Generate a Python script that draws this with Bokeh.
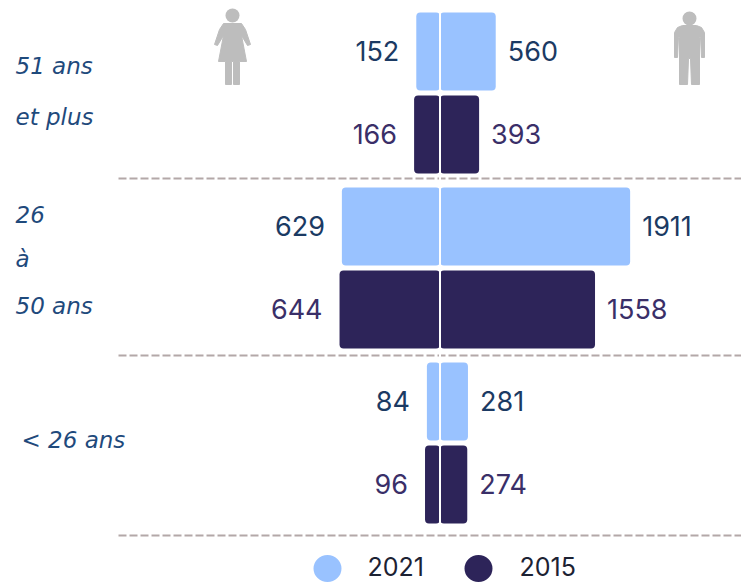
from bokeh.plotting import figure
from bokeh.models import Range1d, ColumnDataSource
from bokeh.core.properties import value
from bokeh.embed import file_html
from bokeh.resources import INLINE

groups = ["51 ans et plus", "26 à 50 ans", "< 26 ans"]
years = ["2021", "2015"]
femmes_2021 = [152, 629, 84]
femmes_2015 = [166, 644, 96]
hommes_2021 = [560, 1911, 281]
hommes_2015 = [393, 1558, 274]
colors = {"2021": "#99c2ff", "2015": "#2d2459"}
label_colors = {"2021": "#1b3a63", "2015": "#3a2f68"}
FONT = "Inter"

W, H = 741, 582
CX = 439.5        # centre line in figure pixels
F_SCALE = 0.156   # px per unit on women's side
M_SCALE = 0.0995  # px per unit on men's side
GROUP_STEP = 175
G0 = 92.5
DODGE = 41.5 / GROUP_STEP
BAR_H = 78 / GROUP_STEP

p = figure(width=W, height=H, output_backend="svg", toolbar_location=None,
           x_range=Range1d(CX / F_SCALE, -(W - CX) / F_SCALE),
           y_range=Range1d((H - G0) / GROUP_STEP, -G0 / GROUP_STEP),
           min_border=0, outline_line_color=None, background_fill_color="white",
           border_fill_color="white")
p.axis.visible = False
p.grid.visible = False
p.extra_x_ranges = {"men": Range1d(-CX / M_SCALE, (W - CX) / M_SCALE), "px": Range1d(0, W)}
p.extra_y_ranges = {"py": Range1d(H, 0)}

for i, (yr, fv, mv, off) in enumerate([("2021", femmes_2021, hommes_2021, -DODGE),
                                       ("2015", femmes_2015, hommes_2015, DODGE)]):
    ys = [g + off for g in range(len(groups))]
    src = ColumnDataSource(dict(y=ys, f=fv, m=mv, zero=[0] * len(ys),
                                ft=[str(v) for v in fv], mt=[str(v) for v in mv]))
    p.hbar(y="y", left="zero", right="f", height=BAR_H, source=src, fill_color=colors[yr],
           line_color=None, border_radius=4)
    p.hbar(y="y", left="zero", right="m", height=BAR_H, source=src, fill_color=colors[yr],
           line_color=None, border_radius=4, x_range_name="men")
    p.text(x="f", y="y", text="ft", source=src, x_offset=-17, y_offset=-1, text_align="right",
           text_baseline="middle", text_font=value(FONT), text_font_size="27px",
           text_color=label_colors[yr])
    p.text(x="m", y="y", text="mt", source=src, x_offset=12, y_offset=-1, text_align="left",
           text_baseline="middle", text_font=value(FONT), text_font_size="27px",
           text_color=label_colors[yr], x_range_name="men")

# separators, centre line (figure pixels)
for y, x0 in [(178, 118), (355, 118), (535, 118)]:
    p.line([x0, W], [y, y], x_range_name="px", y_range_name="py",
           line_color="#b3a8a8", line_width=1.8, line_dash="8 3")
p.line([CX, CX], [11, 525], x_range_name="px", y_range_name="py",
       line_color="white", line_width=2)

# group labels
lab = [("51 ans", 15, 65), ("et plus", 15, 116), ("26", 15, 214), ("à", 15, 258),
       ("50 ans", 15, 305), ("< 26 ans", 21, 439)]
p.text(x=[l[1] for l in lab], y=[l[2] for l in lab], text=[l[0] for l in lab],
       x_range_name="px", y_range_name="py", text_baseline="middle",
       text_font=value("DejaVu Sans"), text_font_style="italic", text_font_size="23px",
       text_color="#1f4a7c")

# legend
p.ellipse(x=[327, 478], y=[568, 568], width=28, height=27, x_range_name="px", y_range_name="py",
          fill_color=[colors[y] for y in years], line_color=None)
p.text(x=[367, 519], y=[566, 566], text=years, x_range_name="px", y_range_name="py",
       text_baseline="middle", text_font=value(FONT), text_font_size="25px", text_color="#1c2233")

# pictograms
GREY = "#bdbdbd"
def draw(xs, ys, cx, top):
    p.patch([cx + x for x in xs], [top + y for y in ys], x_range_name="px", y_range_name="py",
            fill_color=GREY, line_color=GREY, line_width=1, line_join="round")

# woman
wcx, wtop = 232, 9
p.circle(x=[wcx], y=[wtop + 6], radius=7, x_range_name="px", y_range_name="py",
         fill_color=GREY, line_color=None)
draw([-9, 9, 13, 18, 15, 9, 14, 7, 7, 1, 1, -1, -1, -7, -7, -14, -9, -15, -18, -13],
     [14, 14, 20, 35, 36, 26, 52, 52, 75, 75, 52, 52, 75, 75, 52, 52, 26, 36, 35, 20], wcx, wtop)
# man
mcx, mtop = 689, 11
p.circle(x=[mcx], y=[mtop + 7], radius=7, x_range_name="px", y_range_name="py",
         fill_color=GREY, line_color=None)
draw([-7, 7, 12, 15, 15, 12, 11, 10, 10, 2, 1, -1, -2, -10, -10, -11, -12, -15, -15, -12],
     [14, 14, 16, 21, 46, 46, 26, 26, 73, 73, 47, 47, 73, 73, 26, 26, 46, 46, 21, 16], mcx, mtop)

open("out.html", "w").write(file_html(p, INLINE))
